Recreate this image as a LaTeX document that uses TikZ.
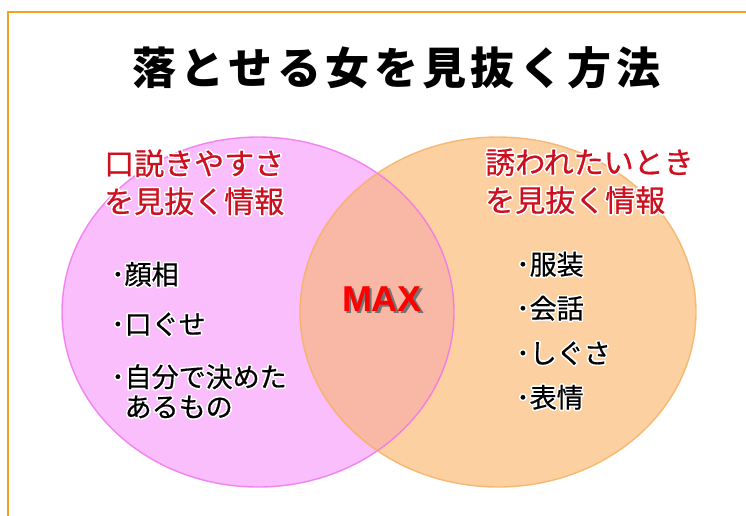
\documentclass[tikz,border=0pt]{standalone}
\usepackage{fontspec}
\usepackage{contour}
\setmainfont{Noto Sans CJK JP}
\newfontfamily\medjp[FakeBold=0.6]{Noto Sans CJK JP}
\newfontfamily\maxfont{Liberation Sans}
\contourlength{1.5pt}
\contournumber{16}
\definecolor{framec}{RGB}{245,160,30}
\definecolor{pinkf}{RGB}{249,190,251}
\definecolor{pinkd}{RGB}{240,110,240}
\definecolor{peachf}{RGB}{252,208,160}
\definecolor{peachd}{RGB}{245,175,95}
\definecolor{overl}{RGB}{249,184,165}
\definecolor{redlab}{RGB}{204,16,32}
\tikzset{
  titletext/.style={font=\fontsize{44}{48}\selectfont\bfseries, text=black, inner sep=0},
  redtext/.style={font=\medjp\fontsize{30}{38}\selectfont, text=redlab, align=left, inner sep=0},
  itemtext/.style={font=\medjp\fontsize{27}{30}\selectfont, text=black, align=left, inner sep=0, anchor=west},
}
\begin{document}
\begin{tikzpicture}[x=1pt,y=-1pt]
\useasboundingbox (0,0) rectangle (746,515);
\fill[white] (0,0) rectangle (746,515);
\draw[framec, line width=2] (747,12) -- (8,12) -- (8,516);
% ellipses
\fill[pinkf] (258,312) ellipse [x radius=196, y radius=175];
\fill[peachf] (498,312) ellipse [x radius=198, y radius=175];
\begin{scope}
  \clip (258,312) ellipse [x radius=196, y radius=175];
  \fill[overl] (498,312) ellipse [x radius=198, y radius=175];
\end{scope}
\draw[pinkd, line width=1.4, opacity=0.8] (258,312) ellipse [x radius=196, y radius=175];
\draw[peachd, line width=1.4, opacity=0.8] (498,312) ellipse [x radius=198, y radius=175];
% title
\node[titletext] (title) at (396,68) {\addfontfeatures{LetterSpace=10}落とせる女を見抜く方法};
% red labels
\node[redtext, anchor=west] (leftlab) at (104,183) {\contour{white}{口説きやすさ}\\\contour{white}{を見抜く情報}};
\node[redtext, anchor=west] (rightlab) at (485,182) {\contour{white}{誘われたいとき}\\\contour{white}{を見抜く情報}};
% MAX
\node[inner sep=0, font=\maxfont\bfseries\fontsize{36}{36}\selectfont] (max) at (382,300)
  {\makebox[0pt][l]{\hspace{2.5pt}\raisebox{-2.5pt}{\textcolor{black!55}{MAX}}}\textcolor{red}{MAX}};
% left items
\node[itemtext] (l1) at (111,275) {\contour{white}{･顔相}};
\node[itemtext] (l2) at (111,325) {\contour{white}{･口ぐせ}};
\node[itemtext] (l3) at (111,392) {\contour{white}{･自分で決めた}\\\hspace{13.5pt}\contour{white}{あるもの}};
% right items
\node[itemtext] (r1) at (516,265) {\contour{white}{･服装}};
\node[itemtext] (r2) at (516,309) {\contour{white}{･会話}};
\node[itemtext] (r3) at (516,354) {\contour{white}{･しぐさ}};
\node[itemtext] (r4) at (516,398) {\contour{white}{･表情}};
\end{tikzpicture}
\end{document}
